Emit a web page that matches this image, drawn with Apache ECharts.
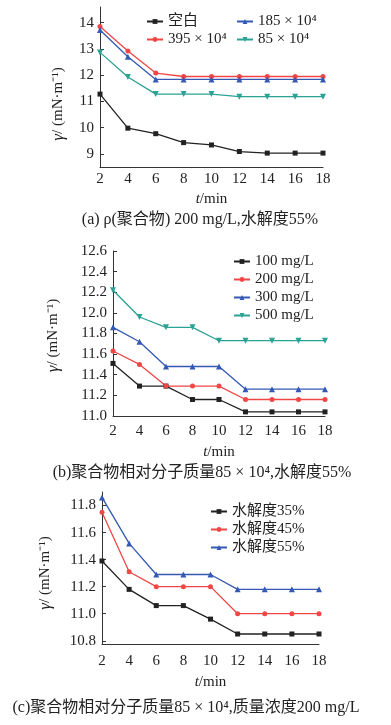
<!DOCTYPE html>
<html><head><meta charset="utf-8">
<script src="https://cdn.jsdelivr.net/npm/echarts@6/dist/echarts.min.js"></script>
<style>html,body{margin:0;padding:0;background:#fff}#c{width:391px;height:725px}</style>
</head><body><div id="c"></div>
<script>
const T = [2, 4, 6, 8, 10, 12, 14, 16, 18];
// chart (a)
const aNames = ['空白', '395 × 10⁴', '185 × 10⁴', '85 × 10⁴'];
const aBlank = [11.28, 9.98, 9.77, 9.43, 9.34, 9.09, 9.03, 9.03, 9.03];
const a395 = [13.86, 12.92, 12.08, 11.95, 11.95, 11.95, 11.95, 11.95, 11.95];
const a185 = [13.72, 12.70, 11.84, 11.84, 11.84, 11.84, 11.84, 11.84, 11.84];
const a85 = [12.87, 11.93, 11.28, 11.28, 11.28, 11.18, 11.18, 11.18, 11.18];
const aTicks = [9, 10, 11, 12, 13, 14];
// chart (b)
const bNames = ['100 mg/L', '200 mg/L', '300 mg/L', '500 mg/L'];
const b100 = [11.51, 11.29, 11.29, 11.16, 11.16, 11.04, 11.04, 11.04, 11.04];
const b200 = [11.63, 11.50, 11.29, 11.29, 11.29, 11.16, 11.16, 11.16, 11.16];
const b300 = [11.86, 11.72, 11.48, 11.48, 11.48, 11.26, 11.26, 11.26, 11.26];
const b500 = [12.22, 11.96, 11.86, 11.86, 11.73, 11.73, 11.73, 11.73, 11.73];
// chart (c)
const cNames = ['水解度35%', '水解度45%', '水解度55%'];
const c35 = [11.39, 11.18, 11.06, 11.06, 10.96, 10.85, 10.85, 10.85, 10.85];
const c45 = [11.75, 11.31, 11.20, 11.20, 11.20, 11.00, 11.00, 11.00, 11.00];
const c55 = [11.86, 11.52, 11.29, 11.29, 11.29, 11.18, 11.18, 11.18, 11.18];
const cTicks = [10.8, 11.0, 11.2, 11.4, 11.6, 11.8];
const captions = ['(a) ρ(聚合物) 200 mg/L,水解度55%', '(b)聚合物相对分子质量85 × 10⁴,水解度55%', '(c)聚合物相对分子质量85 × 10⁴,质量浓度200 mg/L'];

const FONT = '"Liberation Serif", "Noto Sans CJK SC", serif';
const COL = {k: '#222222', r: '#f04646', b: '#3459b4', g: '#2aa294'};
const SYM = {k: 'rect', r: 'circle', b: 'triangle', g: 'path://M0,0 L10,0 L5,9 Z'};
const SSZ = {k: 5, r: 5, b: 6, g: 6};

function ser(name, vals, key, idx) {
  return {
    name, type: 'line', xAxisIndex: idx, yAxisIndex: idx,
    data: T.map((t, i) => [t, vals[i]]),
    symbol: SYM[key], symbolSize: SSZ[key], showSymbol: true,
    lineStyle: {color: COL[key], width: 1.3},
    itemStyle: {color: COL[key]},
    z: 3
  };
}

const grids = [
  {left: 100, top: 7, width: 223, height: 160},
  {left: 113, top: 251, width: 212, height: 165},
  {left: 102, top: 492, width: 217, height: 152}
];
const labelMargins = [5, 8, 10];
const xNameGaps = [25, 29, 31];
const yNameGaps = [33, 51, 48];
const yNamePads = [[0, 34, 0, 0], [0, 4, 0, 0], [0, 10, 0, 0]];

const xAxes = grids.map((g, i) => ({
  gridIndex: i, type: 'value', min: 2, max: 18, interval: 2,
  axisLine: {lineStyle: {color: '#333', width: 1}},
  axisTick: {show: false}, splitLine: {show: false},
  axisLabel: {color: '#222', fontFamily: FONT, fontSize: 15, margin: labelMargins[i]},
  name: '{i|t}/min', nameLocation: 'middle', nameGap: xNameGaps[i],
  nameTextStyle: {color: '#222', fontFamily: FONT, fontSize: 15,
    rich: {i: {fontStyle: 'italic', fontFamily: FONT, fontSize: 15, color: '#222'}}}
}));

function yAxis(i, min, max, ticks, fmt, interval) {
  const ax = {
    gridIndex: i, type: 'value', min, max,
    axisLine: {show: true, lineStyle: {color: '#333', width: 1}},
    axisTick: {show: true, inside: true, length: 4, lineStyle: {color: '#333'}},
    splitLine: {show: false},
    axisLabel: {color: '#222', fontFamily: FONT, fontSize: 15, margin: 6, formatter: fmt},
    name: '{i|γ}/ (mN·m⁻¹)', nameLocation: 'middle', nameGap: yNameGaps[i], nameRotate: 90,
    nameTextStyle: {color: '#222', fontFamily: FONT, fontSize: 15, padding: yNamePads[i],
      rich: {i: {fontStyle: 'italic', fontFamily: FONT, fontSize: 17, color: '#222'}}}
  };
  if (ticks) {
    ax.axisLabel.customValues = ticks;
    ax.axisTick.customValues = ticks;
  } else {
    ax.interval = interval;
  }
  return ax;
}

const yAxes = [
  yAxis(0, 8.5, 14.6, aTicks, v => String(v)),
  yAxis(1, 11.0, 12.6, null, v => v.toFixed(1), 0.2),
  yAxis(2, 10.776, 11.9, cTicks, v => v.toFixed(1))
];

const legText = {color: '#222', fontFamily: FONT, fontSize: 15};
const legBase = {orient: 'vertical', padding: 0, itemWidth: 16, itemHeight: 6, itemGap: 3, textStyle: legText};

const option = {
  animation: false,
  grid: grids,
  xAxis: xAxes,
  yAxis: yAxes,
  legend: [
    Object.assign({}, legBase, {left: 146, top: 14, data: [aNames[0], aNames[1]]}),
    Object.assign({}, legBase, {left: 236, top: 14, data: [aNames[2], aNames[3]]}),
    Object.assign({}, legBase, {left: 233, top: 254, data: bNames}),
    Object.assign({}, legBase, {left: 210, top: 504, data: cNames})
  ],
  series: [
    ser(aNames[0], aBlank, 'k', 0),
    ser(aNames[1], a395, 'r', 0),
    ser(aNames[2], a185, 'b', 0),
    ser(aNames[3], a85, 'g', 0),
    ser(bNames[0], b100, 'k', 1),
    ser(bNames[1], b200, 'r', 1),
    ser(bNames[2], b300, 'b', 1),
    ser(bNames[3], b500, 'g', 1),
    ser(cNames[0], c35, 'k', 2),
    ser(cNames[1], c45, 'r', 2),
    ser(cNames[2], c55, 'b', 2)
  ],
  graphic: [
    {type: 'text', x: 200, y: 220, style: {text: captions[0], fill: '#222', font: '16px ' + FONT, textAlign: 'center', textVerticalAlign: 'middle'}},
    {type: 'text', x: 202, y: 473, style: {text: captions[1], fill: '#222', font: '16px ' + FONT, textAlign: 'center', textVerticalAlign: 'middle'}},
    {type: 'text', x: 186, y: 708, style: {text: captions[2], fill: '#222', font: '16px ' + FONT, textAlign: 'center', textVerticalAlign: 'middle'}}
  ]
};
const chart = echarts.init(document.getElementById('c'), null, {renderer: 'canvas'});
chart.setOption(option);
</script></body></html>
